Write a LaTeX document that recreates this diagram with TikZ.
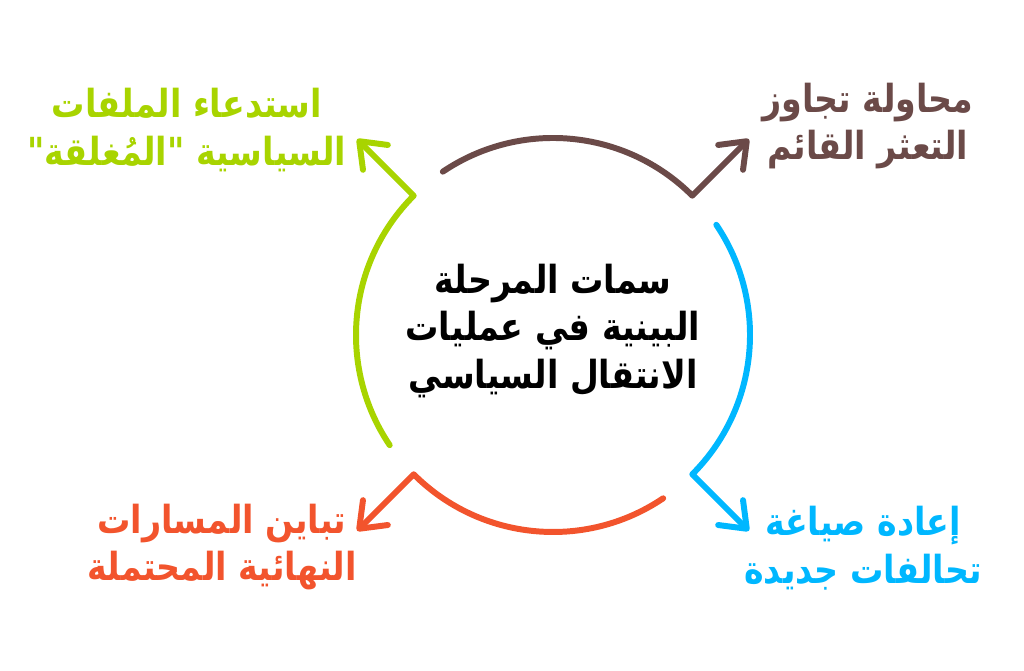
\documentclass[tikz,border=0pt]{standalone}
\usepackage{fontspec}
\newfontfamily\arabicfont[Script=Arabic,FakeStretch=0.86]{DejaVu Sans}
\TeXXeTstate=1
\usetikzlibrary{arrows.meta,calc}
\definecolor{lime}{HTML}{A8D400}
\definecolor{cocoa}{HTML}{6B4A48}
\definecolor{sky}{HTML}{00B7FF}
\definecolor{flame}{HTML}{F2542D}
\tikzset{
  loop arrow/.style={line width=3.4pt,line cap=round,line join=round,
    -{Straight Barb[length=13pt,width=20pt,round]}},
  label text/.style={align=center,font=\arabicfont\bfseries\fontsize{22}{27}\selectfont}
}
\begin{document}
\begin{tikzpicture}[x=0.02cm,y=0.02cm]
\useasboundingbox (0,0) rectangle (1024,671);
\coordinate (C) at (553,336);
% four arcs, each ending in an arrow pointing outwards
\foreach \n/\a/\col in {brown/45/cocoa,blue/-45/sky,red/-135/flame,green/-225/lime}{
  \coordinate (s\n) at ($(C)+(\a+79:197)$);
  \coordinate (t\n) at ($(C)+(\a:277)$);
  \draw[loop arrow,\col] (s\n) arc[start angle=\a+79,end angle=\a,radius=197] -- (t\n);
}
\node[label text] (centre) at (553,340) {\beginR سمات المرحلة\endR\\ \beginR البينية في عمليات\endR\\ \beginR الانتقال السياسي\endR};
\node[label text,lime] (recall) at (187,541) {\beginR استدعاء الملفات\endR\\ \beginR السياسية "المُغلقة"\endR};
\node[label text,cocoa] (attempt) at (868,545) {\beginR محاولة تجاوز\endR\\ \beginR التعثر القائم\endR};
\node[label text,sky] (reshape) at (863,123) {\beginR إعادة صياغة\endR\\ \beginR تحالفات جديدة\endR};
\node[label text,flame] (diverge) at (222,124) {\beginR تباين المسارات\endR\\ \beginR النهائية المحتملة\endR};
\end{tikzpicture}
\end{document}
